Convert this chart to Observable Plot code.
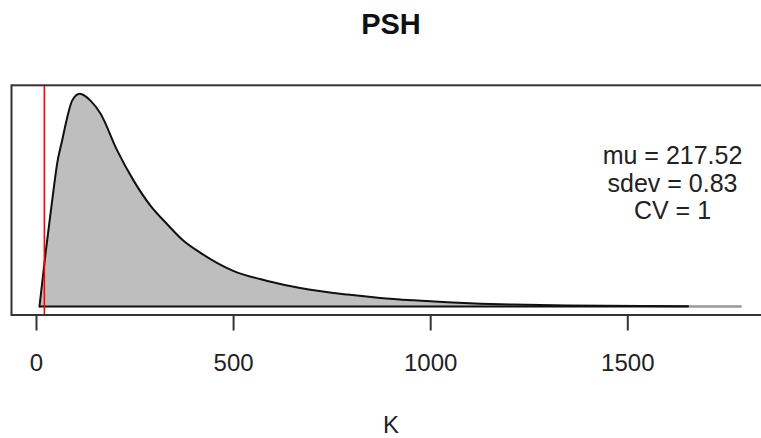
<!DOCTYPE html>
<html>
<head>
<meta charset="utf-8">
<script src="https://cdn.jsdelivr.net/npm/d3@7"></script>
<script src="https://cdn.jsdelivr.net/npm/@observablehq/plot@0.6"></script>
<style>
  html, body { margin: 0; padding: 0; background: #fff; overflow: hidden; }
  #chart { width: 761px; height: 438px; overflow: hidden; }
  #chart svg { max-width: none !important; }
</style>
</head>
<body>
<div id="chart"></div>
<script>
// Values
const chartTitle = "PSH";
const xLabel = "K";
const xTicks = [0, 500, 1000, 1500];
const kValues = [7.6, 22.8, 35.5, 43.9, 52.5, 65.2, 77.8, 90.5, 109.8, 136.9, 162.3, 204.6, 246, 289, 331, 373, 416, 499, 586, 669, 789, 872, 956, 1042, 1126, 1209, 1346, 1653, 1790];
const densityValues = [0, 0.000773, 0.00136, 0.00174, 0.00210, 0.00244, 0.00277, 0.00302, 0.00312, 0.00302, 0.00283, 0.00229, 0.00185, 0.00148, 0.00121, 0.000964, 0.000787, 0.000522, 0.000375, 0.000272, 0.000175, 0.000125, 0.000090, 0.000062, 0.000042, 0.000028, 0.000013, 0.000004, 0.000002];
const lineEnd = 1653;      // black outline ends here
const refLineK = [20];     // red vertical line
const statLines = ["mu = 217.52", "sdev = 0.83", "CV = 1"];

const data = kValues.map((k, i) => ({k, d: densityValues[i]}));
const outline = data.filter(p => p.k <= lineEnd);
const peak = d3.max(densityValues);
const kMin = d3.min(kValues), kMax = d3.max(kValues);

const font = "'Liberation Sans', Arial, Helvetica, sans-serif";

const plot = Plot.plot({
  width: 780,
  height: 438,
  marginLeft: 11,
  marginRight: 10,
  marginTop: 84.8,
  marginBottom: 123.5,
  style: {fontFamily: font, background: "#fff", overflow: "visible", maxWidth: "none"},
  x: {domain: [-63.4, 1862], axis: null},
  y: {domain: [-0.04 * peak, 1.04 * peak], axis: null},
  marks: [
    Plot.areaY(data, {x: "k", y: "d", fill: "#bebebe", curve: "monotone-x"}),
    Plot.ruleY([0], {x1: lineEnd, x2: kMax, stroke: "#9a9a9a", strokeWidth: 2.5}),
    Plot.ruleY([0], {x1: kMin, x2: lineEnd, stroke: "#111", strokeWidth: 2}),
    Plot.line(outline, {x: "k", y: "d", stroke: "#111", strokeWidth: 2, curve: "monotone-x"}),
    Plot.ruleX(refLineK, {stroke: "#ff0000", strokeWidth: 1.6}),
    Plot.frame({stroke: "#333", strokeWidth: 2}),
    Plot.axisX({ticks: xTicks, tickFormat: d => String(d), tickSize: 16, tickPadding: 23, fontSize: 24, stroke: "#333", strokeWidth: 2, fill: "#222", label: null}),
    Plot.text([chartTitle], {text: d => d, frameAnchor: "top", lineAnchor: "bottom", dy: -51.4, fontSize: 29, fontWeight: "bold", fill: "#111"}),
    Plot.text([xLabel], {text: d => d, frameAnchor: "bottom", lineAnchor: "bottom", dy: 117.5, fontSize: 24, fill: "#222"}),
    Plot.text([statLines.join("\n")], {text: d => d, frameAnchor: "top-right", textAnchor: "middle", lineAnchor: "top", dx: -98, dy: 59.5, lineHeight: 1.1, fontSize: 25, fill: "#222"})
  ]
});
document.getElementById("chart").appendChild(plot);
</script>
</body>
</html>
